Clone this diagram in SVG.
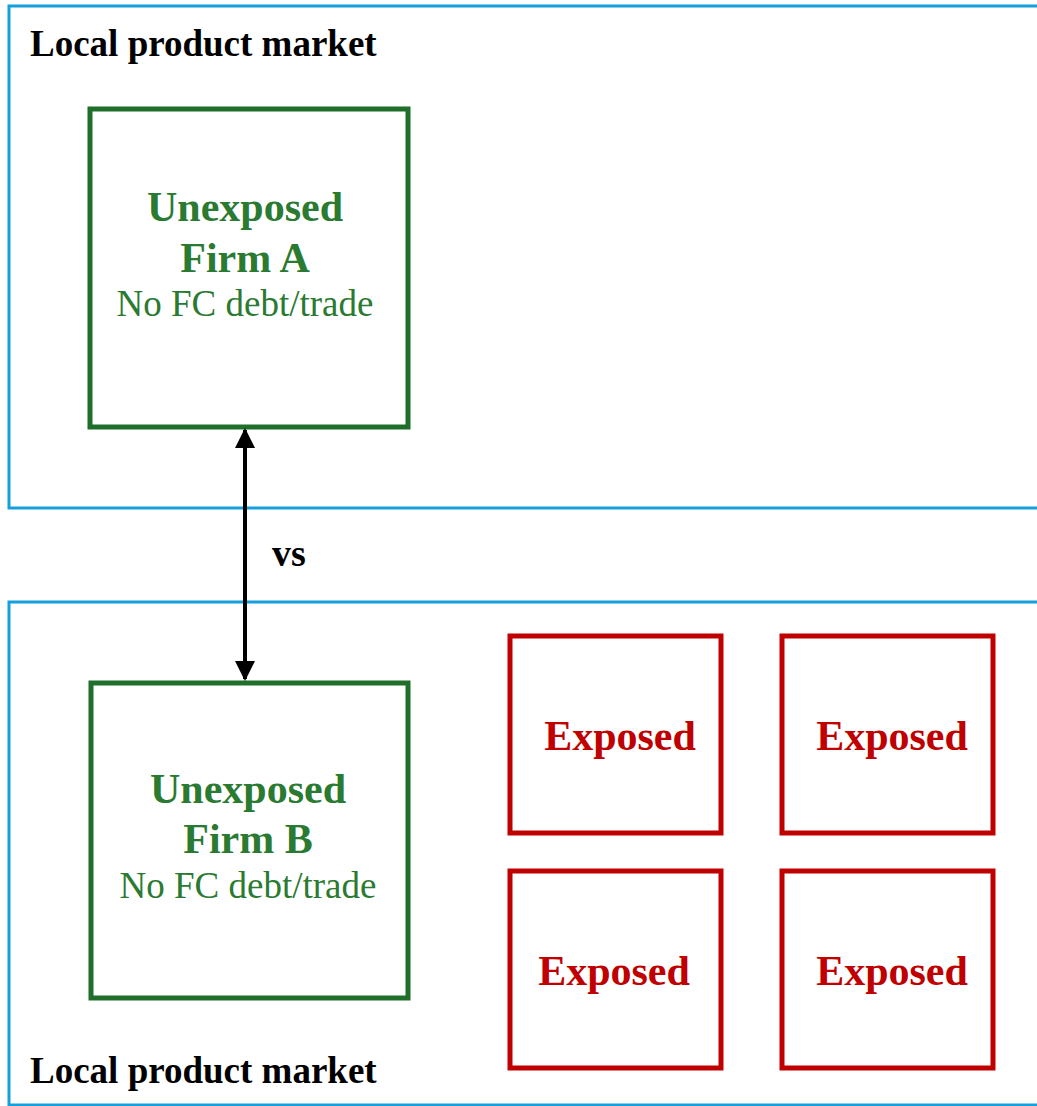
<svg xmlns="http://www.w3.org/2000/svg" width="1037" height="1106" viewBox="0 0 1037 1106">
<defs>
<style>
.market{fill:none;stroke:#14a0dc;stroke-width:3}
.unexp{fill:#fff;stroke:#1f6f2b;stroke-width:5}
.exp{fill:#fff;stroke:#c00000;stroke-width:5}
.lbl{font-family:"Liberation Serif",serif;font-weight:bold;font-size:37px;fill:#000}
.gb{font-family:"Liberation Serif",serif;font-weight:bold;font-size:42px;fill:#2a7a32;text-anchor:middle}
.gr{font-family:"Liberation Serif",serif;font-size:37px;fill:#2a7a32;text-anchor:middle}
.rb{font-family:"Liberation Serif",serif;font-weight:bold;font-size:42px;fill:#c00000;text-anchor:middle}
</style>
<marker id="ah" viewBox="0 0 10 10" refX="9" refY="5" markerWidth="5.5" markerHeight="5" orient="auto-start-reverse" markerUnits="strokeWidth">
<path d="M0,0 L10,5 L0,10 Z" fill="#000"/>
</marker>
</defs>
<rect width="1037" height="1106" fill="#fff"/>
<g id="market-top">
<rect class="market" x="9" y="6" width="1040" height="502"/>
<text class="lbl" x="30" y="56">Local product market</text>
</g>
<g id="market-bottom">
<rect class="market" x="9" y="602" width="1040" height="503"/>
<text class="lbl" x="30" y="1083">Local product market</text>
</g>
<g id="firmA">
<rect class="unexp" x="90" y="109" width="318" height="318"/>
<text class="gb" x="245" y="221">Unexposed</text>
<text class="gb" x="245" y="272">Firm A</text>
<text class="gr" x="245" y="316">No FC debt/trade</text>
</g>
<g id="firmB">
<rect class="unexp" x="91" y="683" width="317" height="315"/>
<text class="gb" x="248" y="803">Unexposed</text>
<text class="gb" x="248" y="853">Firm B</text>
<text class="gr" x="248" y="898">No FC debt/trade</text>
</g>
<g id="exp1">
<rect class="exp" x="510" y="636" width="211" height="197"/>
<text class="rb" x="620" y="750">Exposed</text>
</g>
<g id="exp2">
<rect class="exp" x="782" y="636" width="211" height="197"/>
<text class="rb" x="892" y="750">Exposed</text>
</g>
<g id="exp3">
<rect class="exp" x="510" y="871" width="211" height="197"/>
<text class="rb" x="614" y="985">Exposed</text>
</g>
<g id="exp4">
<rect class="exp" x="782" y="871" width="211" height="197"/>
<text class="rb" x="892" y="985">Exposed</text>
</g>
<g id="connectors">
<line x1="245" y1="430" x2="245" y2="679" stroke="#000" stroke-width="4" marker-start="url(#ah)" marker-end="url(#ah)"/>
<text class="lbl" x="272" y="566" style="font-size:38px">vs</text>
</g>
</svg>
